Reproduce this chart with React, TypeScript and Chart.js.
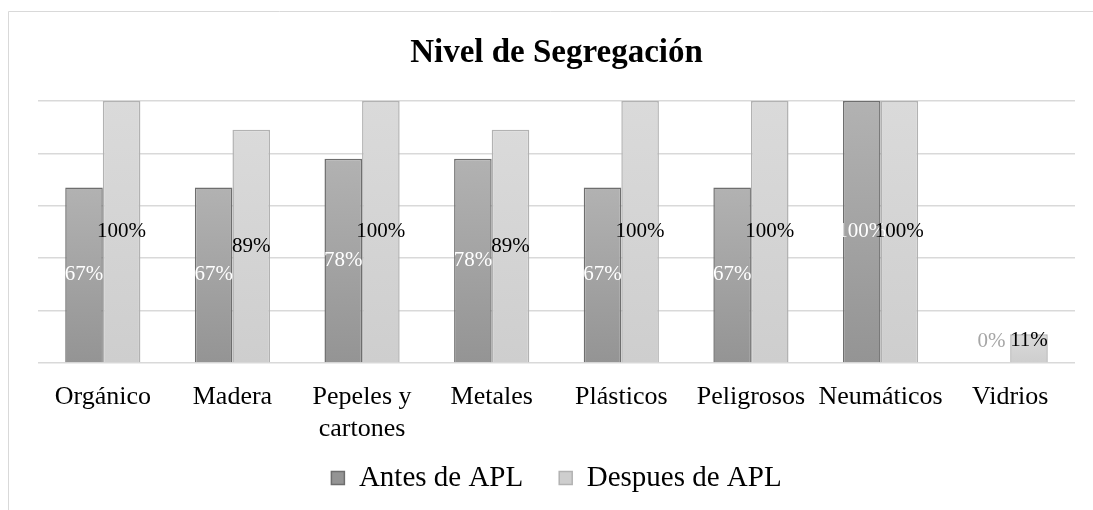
import React, { useEffect, useRef } from "react";
import { Chart, registerables } from "chart.js";

Chart.register(...registerables);

const categories: (string | string[])[] = [
  "Orgánico",
  "Madera",
  ["Pepeles y", "cartones"],
  "Metales",
  "Plásticos",
  "Peligrosos",
  "Neumáticos",
  "Vidrios",
];
const antesValues = [67, 67, 78, 78, 67, 67, 100, 0];
const despuesValues = [100, 89, 100, 89, 100, 100, 100, 11];
const yTicks = [0, 20, 40, 60, 80, 100];
const seriesNames = ["Antes de APL", "Despues de APL"];
const titleText = "Nivel de Segregación";

const FONT = "'Liberation Serif', 'Times New Roman', serif";

function gradientFill(top: string, bottom: string, solid: string) {
  return (c: any) => {
    const chart = c.chart;
    const ys = chart.scales && chart.scales.y;
    if (!ys || c.type !== "data" || typeof c.raw !== "number") return solid;
    const yTop = ys.getPixelForValue(c.raw);
    const yBot = ys.getPixelForValue(0);
    if (!isFinite(yTop) || !isFinite(yBot) || Math.abs(yBot - yTop) < 1) return solid;
    const g = chart.ctx.createLinearGradient(0, yTop, 0, yBot);
    g.addColorStop(0, top);
    g.addColorStop(1, bottom);
    return g;
  };
}

const framePlugin = {
  id: "frame",
  beforeDraw(chart: any) {
    const ctx = chart.ctx;
    ctx.save();
    ctx.fillStyle = "#ffffff";
    ctx.fillRect(0, 0, chart.width, chart.height);
    ctx.strokeStyle = "#d9d9d9";
    ctx.lineWidth = 1;
    ctx.beginPath();
    ctx.moveTo(8.5, chart.height);
    ctx.lineTo(8.5, 11.5);
    ctx.lineTo(chart.width, 11.5);
    ctx.stroke();
    ctx.restore();
  },
};

// place the legend row a little higher (overlapping the x-axis box, which needs room for 2-line labels)
const legendShiftPlugin = {
  id: "legendShift",
  afterLayout(chart: any) {
    const lg = chart.legend;
    if (!lg) return;
    const target = 427.5;
    const dy = target - lg.top;
    lg.top += dy;
    lg.bottom += dy;
  },
};

const labelPlugin = {
  id: "barLabels",
  afterDatasetsDraw(chart: any) {
    const ctx = chart.ctx;
    ctx.save();
    ctx.font = `21px ${FONT}`;
    ctx.textAlign = "center";
    ctx.textBaseline = "middle";
    chart.data.datasets.forEach((ds: any, i: number) => {
      const meta = chart.getDatasetMeta(i);
      meta.data.forEach((el: any, j: number) => {
        const v = ds.data[j];
        const center = (el.y + el.base) / 2;
        const y = Math.min(center, el.base - 22);
        ctx.fillStyle = v === 0 ? "#a6a6a6" : i === 0 ? "#ffffff" : "#000000";
        ctx.fillText(`${v}%`, el.x, y);
      });
    });
    ctx.restore();
  },
};

export default function App() {
  const ref = useRef<HTMLCanvasElement>(null);
  useEffect(() => {
    if (!ref.current) return;
    const chart = new Chart(ref.current, {
      type: "bar",
      data: {
        labels: categories,
        datasets: [
          {
            label: seriesNames[0],
            data: antesValues,
            backgroundColor: gradientFill("#b2b2b2", "#949494", "#a3a3a3"),
            borderColor: "#6e6e6e",
            borderWidth: 1.5,
            categoryPercentage: 0.58,
            barPercentage: 1.0,
          },
          {
            label: seriesNames[1],
            data: despuesValues,
            backgroundColor: gradientFill("#dadada", "#cecece", "#d4d4d4"),
            borderColor: "#b2b2b2",
            borderWidth: 1.5,
            categoryPercentage: 0.58,
            barPercentage: 1.0,
          },
        ],
      },
      options: {
        responsive: false,
        animation: false,
        layout: { padding: { left: 38, right: 18, top: 0, bottom: 0 } },
        scales: {
          x: {
            grid: { display: false, drawTicks: false },
            border: { display: false },
            ticks: {
              color: "#000000",
              font: { family: FONT, size: 26 },
              padding: 19,
              maxRotation: 0,
              autoSkip: false,
            },
            afterFit: (s: any) => {
              s.height = 82;
            },
          },
          y: {
            min: yTicks[0],
            max: yTicks[yTicks.length - 1],
            afterBuildTicks: (s: any) => {
              s.ticks = yTicks.map((v) => ({ value: v }));
            },
            ticks: { display: false },
            grid: { color: "#d9d9d9", lineWidth: 1.5, drawTicks: false },
            border: { display: false },
          },
        },
        plugins: {
          title: {
            display: true,
            text: titleText,
            color: "#000000",
            font: { family: FONT, size: 33, weight: "bold" },
            padding: { top: 34, bottom: 27.4 },
          },
          legend: {
            display: true,
            position: "bottom",
            maxHeight: 65,
            labels: {
              color: "#000000",
              font: { family: FONT, size: 29 },
              boxWidth: 13,
              boxHeight: 13,
              padding: 36,
            },
          },
          tooltip: { enabled: false },
        },
      },
      plugins: [framePlugin, legendShiftPlugin, labelPlugin],
    });
    return () => chart.destroy();
  }, []);
  return (
    <div style={{ position: "absolute", left: 0, top: 0, width: 1093, height: 510 }}>
      <canvas ref={ref} width={1093} height={510} style={{ display: "block" }} />
    </div>
  );
}
